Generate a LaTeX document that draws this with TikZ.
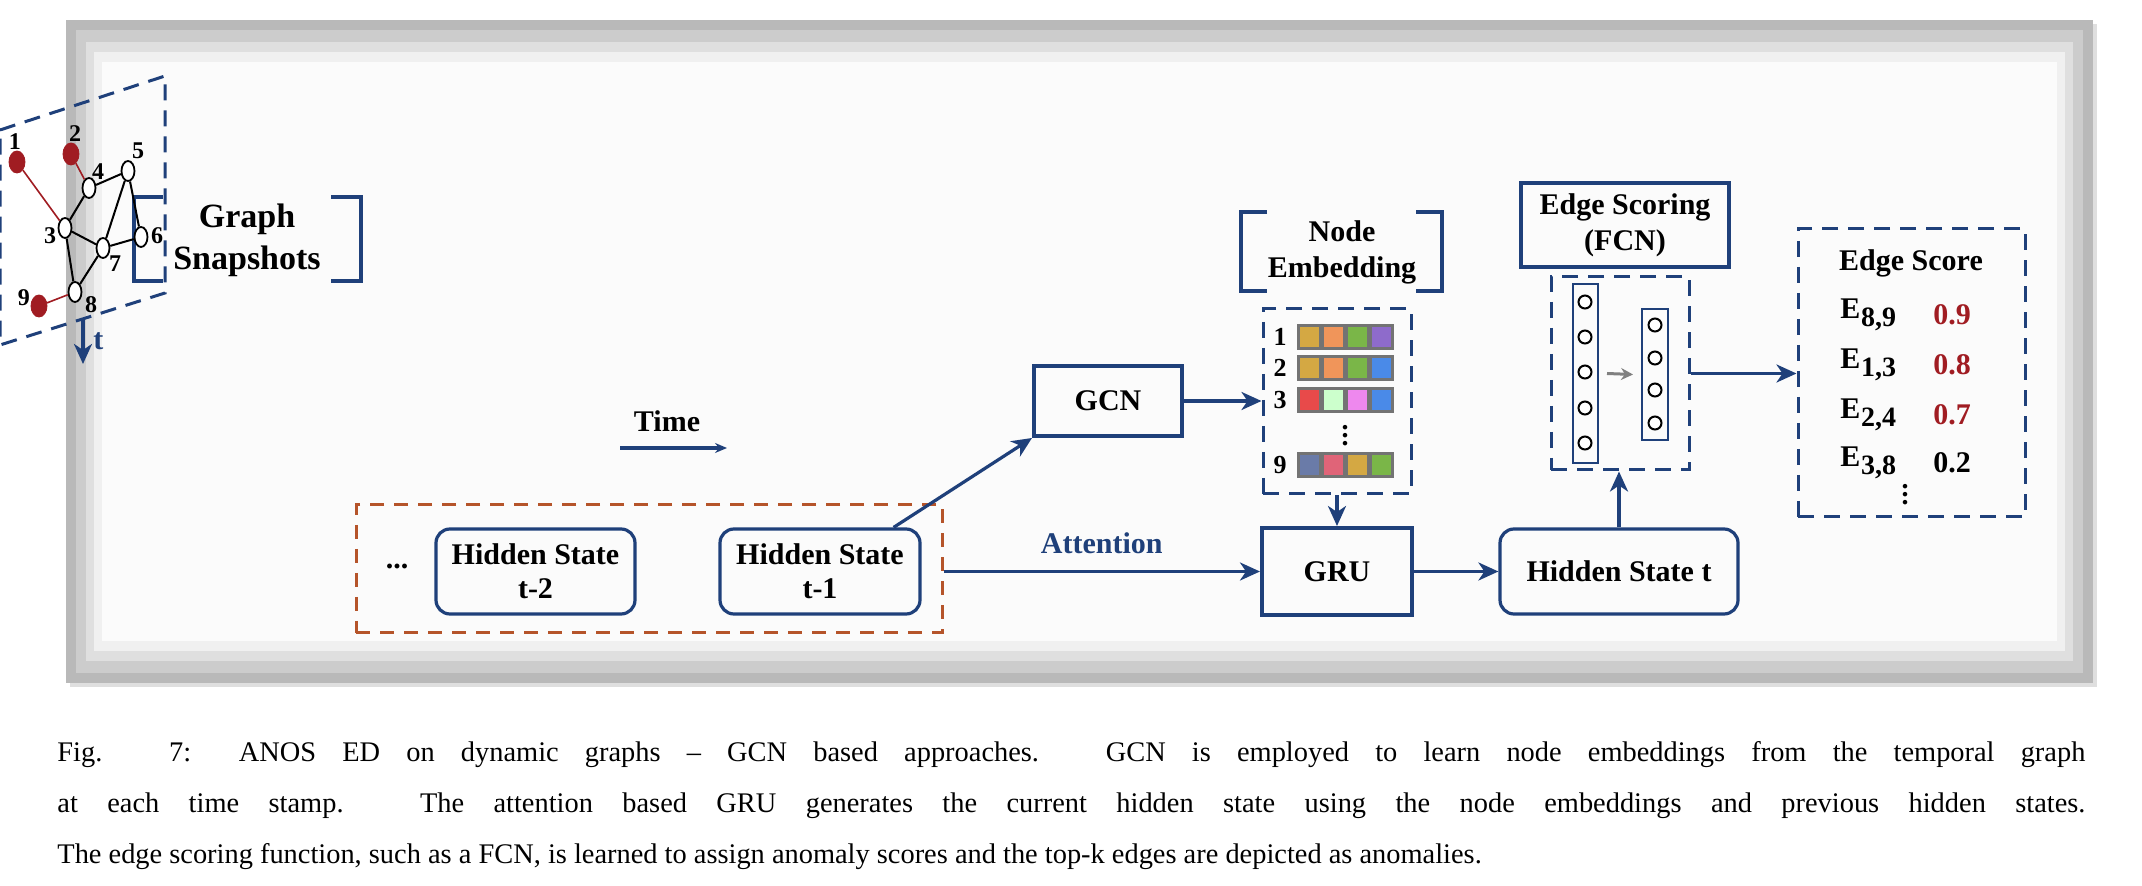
\documentclass[tikz,border=0pt]{standalone}
\usepackage{fontspec}
\setmainfont{Liberation Serif}
\usetikzlibrary{arrows.meta,shapes.geometric,calc}
\definecolor{navy}{RGB}{31,64,122}
\definecolor{nred}{RGB}{160,28,34}
\definecolor{brn}{RGB}{181,84,42}
\definecolor{cgold}{RGB}{212,168,67}
\definecolor{corange}{RGB}{240,149,90}
\definecolor{cgreen}{RGB}{122,182,72}
\definecolor{cpurple}{RGB}{142,107,203}
\definecolor{cblue}{RGB}{74,138,232}
\definecolor{cred}{RGB}{232,74,74}
\definecolor{clgreen}{RGB}{204,255,204}
\definecolor{cpink}{RGB}{238,136,238}
\definecolor{cslate}{RGB}{106,123,168}
\definecolor{cpr}{RGB}{224,100,120}
\tikzset{
  x=0.5pt,y=-0.5pt,
  arr/.style={navy,line width=1.6pt,-{Stealth[length=10pt,width=9pt,inset=3pt]}},
  gv/.style={ellipse,draw=black,fill=white,line width=0.9pt,minimum width=6.5pt,minimum height=10pt,inner sep=0pt},
  rv/.style={ellipse,draw=nred,fill=nred,minimum width=8pt,minimum height=11pt,inner sep=0pt},
  gl/.style={font=\bfseries\fontsize{12}{12}\selectfont,inner sep=0pt},
  ge/.style={black,line width=1pt},
  re/.style={nred,line width=0.8pt},
  dframe/.style={navy,line width=1.5pt,dash pattern=on 8pt off 5pt},
  lbl/.style={font=\bfseries\fontsize{15}{17}\selectfont,align=center,inner sep=0pt},
  box/.style={draw=navy,line width=2pt,font=\bfseries\fontsize{15}{17}\selectfont,align=center},
  rbox/.style={draw=navy,line width=1.6pt,rounded corners=7pt,font=\bfseries\fontsize{15}{17}\selectfont,align=center},
  brk/.style={navy,line width=1.6pt},
  cell/.style={draw=gray!90!black,line width=1.5pt,minimum width=11pt,minimum height=11.5pt,inner sep=0pt},
  neur/.style={circle,draw=black,line width=1pt,minimum size=6.5pt,inner sep=0pt,fill=white},
}
\newcommand{\gphnodes}[1]{%
  \node[rv] (n1) at (17,162) {};
  \node[rv] (n2) at (71,154) {};
  \node[gv] (n4) at (89,188) {};
  \node[gv] (n5) at (128,171) {};
  \node[gv] (n3) at (65,228) {};
  \node[gv] (n6) at (141,237) {};
  \node[gv] (n7) at (103,248) {};
  \node[gv] (n8) at (75,292) {};
  \node[gl] (l1) at (15,142) {1};
  \node[gl] (l2) at (75,134) {2};
  \node[gl] (l4) at (98,172) {4};
  \node[gl] (l5) at (138,151) {5};
  \node[gl] (l3) at (50,236) {3};
  \node[gl] (l6) at (157,236) {6};
  \node[gl] (l7) at (115,264) {7};
  \node[gl] (l8) at (91,305) {8};
  \draw[dframe] (0,130) -- (165,76) -- (165,293) -- (0,345) -- cycle;
  \coordinate (r) at (165,212);
  \coordinate (l) at (0,212);
  \node[font=\bfseries\fontsize{15}{15}\selectfont] (lab) at (94,362) {#1};
  \draw[re] (n1) -- (n3);
  \draw[ge] (n3) -- (n4) -- (n5) -- (n6) -- (n7) -- (n3) -- (n8);
}
\newcommand{\Ei}[1]{E\kern0.3pt\raisebox{-4pt}{\fontsize{14}{14}\selectfont #1}}
\begin{document}
\begin{tikzpicture}
\useasboundingbox (0,0) rectangle (2142,886);
\fill[white] (0,0) rectangle (2142,886);
% outer frame
\fill[gray!25] (70,24) rectangle (2097,687);
\fill[gray!55] (66,20) rectangle (2093,683);
\fill[gray!40] (76,30) rectangle (2083,673);
\fill[gray!25] (86,42) rectangle (2073,661);
\fill[gray!12] (94,52) rectangle (2065,651);
\fill[white!97!gray] (102,62) rectangle (2057,641);

% Graph snapshots label
\node[font=\bfseries\fontsize{17}{21}\selectfont,align=center] (gs) at (247,240) {Graph\\Snapshots};
\draw[brk] (163,197) -- (134,197) -- (134,281) -- (163,281);
\draw[brk] (331,197) -- (361,197) -- (361,281) -- (331,281);

% frames
\begin{scope}[shift={(-581,0)},name prefix=fa-]
\gphnodes{t-2}
\end{scope}
\begin{scope}[shift={(-298,0)},name prefix=fb-]
\gphnodes{t-1}
\draw[re] (n2) -- (n4);
\draw[ge] (n5) -- (n7) -- (n8);
\end{scope}
\begin{scope}[name prefix=fc-]
\gphnodes{}
\node[rv] (n9) at (39,306) {};
\node[gl] (l9) at (24,298) {9};
\draw[re] (n2) -- (n4);
\draw[re] (n9) -- (n8);
\draw[ge] (n5) -- (n7) -- (n8);
\coordinate (b) at (83,318);
\end{scope}
\draw[arr,{Bar[width=9pt]}-{Stealth[length=10pt,width=9pt,inset=3pt]}] (fa-r) -- (fb-l);
\draw[arr,{Bar[width=9pt]}-{Stealth[length=10pt,width=9pt,inset=3pt]}] (fb-r) -- (fc-l);

% Time
\node[lbl] (time) at (667,421) {Time};
\coordinate (ts) at (620,448);
\coordinate (te) at (727,448);
\draw[navy,line width=1.6pt,-{Stealth[length=6pt,width=5pt,inset=2pt]}] (ts) -- (te);

% GCN
\node[box,minimum width=74pt,minimum height=35pt] (gcn) at (1108,401) {GCN};
\draw[arr] (fc-b) -- (fc-b |- gcn.north) node[pos=0.5,right=1pt,font=\bfseries\fontsize{15}{15}\selectfont] (tl) {t};

% Node embedding
\node[lbl,font=\bfseries\fontsize{15}{18}\selectfont] (nel) at (1342,252) {Node\\Embedding};
\draw[brk] (1267,212) -- (1241,212) -- (1241,291) -- (1267,291);
\draw[brk] (1416,212) -- (1442,212) -- (1442,291) -- (1416,291);
\node[draw=navy,line width=1.5pt,dash pattern=on 8pt off 5pt,minimum width=74pt,minimum height=92.5pt,inner sep=0pt] (emb) at (1337,401.5) {};
\foreach \r/\y/\ca/\cb/\cc/\cd in {1/337/cgold/corange/cgreen/cpurple,2/368/cgold/corange/cgreen/cblue,3/400/cred/clgreen/cpink/cblue,9/465/cslate/cpr/cgold/cgreen}{
  \node[font=\bfseries\fontsize{13}{13}\selectfont] (er\r) at (1280,\y) {\r};
  \node[cell,fill=\ca] (c\r a) at (1309,\y) {};
  \node[cell,fill=\cb] (c\r b) at (1333,\y) {};
  \node[cell,fill=\cc] (c\r c) at (1357,\y) {};
  \node[cell,fill=\cd] (c\r d) at (1381,\y) {};
}
\node[font=\bfseries\fontsize{14}{14}\selectfont] (vd) at (1345,430) {$\vdots$};
\draw[arr] (gcn.east) -- (gcn.east -| emb.west);

% Hidden states
\node[draw=brn,line width=1.5pt,dash pattern=on 7pt off 5pt,minimum width=293pt,minimum height=64pt,inner sep=0pt] (hsg) at (649,569) {};
\node[font=\bfseries\fontsize{15}{15}\selectfont] (dots) at (397,566) {...};
\node[rbox,minimum width=99.5pt,minimum height=42.5pt,inner sep=0pt] (hs2) at (535.5,571.5) {Hidden State\\t-2};
\node[rbox,minimum width=100pt,minimum height=42.5pt,inner sep=0pt] (hs1) at (820,571.5) {Hidden State\\t-1};
\draw[arr] ($(hs1.north east)+(-28,0)$) -- (gcn.south west);

% GRU
\node[box,minimum width=75pt,minimum height=43.5pt,inner sep=0pt] (gru) at (1337,571.5) {GRU};
\draw[arr] (hsg.east |- gru.west) -- (gru.west) node[midway,above=8pt,lbl] (att) {Attention};
\draw[arr] (emb.south -| gru.north) -- (gru.north);
\node[rbox,minimum width=119pt,minimum height=42.5pt,inner sep=0pt] (hst) at (1619,571.5) {Hidden State t};
\draw[arr] (gru.east) -- (hst.west);

% Edge scoring
\node[box,minimum width=104pt,minimum height=42pt,inner sep=0pt,font=\bfseries\fontsize{15}{18}\selectfont] (es) at (1625,225) {Edge Scoring\\(FCN)};
\node[draw=navy,line width=1.5pt,dash pattern=on 8pt off 5pt,minimum width=69pt,minimum height=96.5pt,inner sep=0pt] (fcn) at (1620,373.5) {};
\node[draw=navy,line width=1pt,minimum width=12.5pt,minimum height=89.5pt,inner sep=0pt] (colA) at (1585.5,373.5) {};
\node[draw=navy,line width=1pt,minimum width=13pt,minimum height=65.5pt,inner sep=0pt] (colB) at (1655,374.5) {};
\foreach \i/\y in {1/302,2/337,3/372,4/408,5/443}{\node[neur] (a\i) at (1585,\y) {};}
\foreach \i/\y in {1/325,2/358,3/390,4/423}{\node[neur] (b\i) at (1655,\y) {};}
\draw[gray,line width=1.5pt,-{Stealth[length=6pt,width=6pt]}] ($(colA.east)+(8,0)$) -- ($(colB.west)+(-8,0)$);
\draw[arr] (hst.north) -- (hst.north |- fcn.south);

% Edge score
\node[draw=navy,line width=1.5pt,dash pattern=on 8pt off 5pt,minimum width=113.5pt,minimum height=144pt,inner sep=0pt] (esc) at (1911.5,373) {};
\draw[arr] (fcn.east) -- (fcn.east -| esc.west);
\node[lbl] (est) at (1911,263) {Edge Score};
\foreach \n/\s/\v/\c/\y in {a/{8,9}/0.9/nred/315,b/{1,3}/0.8/nred/365,c/{2,4}/0.7/nred/415,d/{3,8}/0.2/black/463}{
  \node[lbl,anchor=west] (ee\n) at (1840,\y) {\Ei{\s}};
  \node[lbl,anchor=west,text=\c] (ev\n) at (1933,\y) {\v};
}
\node[font=\bfseries\fontsize{14}{14}\selectfont] (vd2) at (1905,489) {$\vdots$};

% caption
\node[anchor=west,inner sep=0pt,font=\fontsize{14.2}{16}\selectfont] (cap1) at (57,755) {\makebox[1014pt][s]{Fig. 7: ANOS ED on dynamic graphs – GCN based approaches. GCN is employed to learn node embeddings from the temporal graph}};
\node[anchor=west,inner sep=0pt,font=\fontsize{14.2}{16}\selectfont] (cap2) at (57,806) {\makebox[1014pt][s]{at each time stamp. The attention based GRU generates the current hidden state using the node embeddings and previous hidden states.}};
\node[anchor=west,inner sep=0pt,font=\fontsize{14.2}{16}\selectfont] (cap3) at (57,857) {The edge scoring function, such as a FCN, is learned to assign anomaly scores and the top-k edges are depicted as anomalies.};
\end{tikzpicture}
\end{document}
